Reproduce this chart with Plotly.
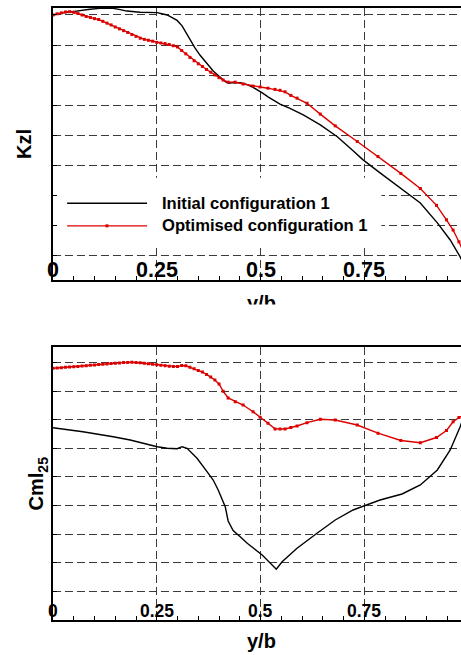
import plotly.graph_objects as go

# ---------------- data ----------------
tick_vals = [0, 0.25, 0.5, 0.75]
tick_text = ["0", "0.25", "0.5", "0.75"]

# Optimised configuration 1 (red, with markers) – spanwise stations
x_opt = [0.00, 0.01, 0.02, 0.03, 0.04, 0.05, 0.06, 0.07, 0.08, 0.09,
         0.10, 0.11, 0.12, 0.13, 0.14, 0.15, 0.16, 0.17, 0.18, 0.19,
         0.20, 0.21, 0.22, 0.23, 0.24, 0.25, 0.26, 0.27, 0.28, 0.29,
         0.30, 0.31, 0.32, 0.33, 0.34, 0.35, 0.36, 0.37, 0.38, 0.39,
         0.40, 0.41, 0.422, 0.439, 0.458, 0.482, 0.499, 0.518, 0.535, 0.547,
         0.559, 0.573, 0.588, 0.612, 0.644, 0.680, 0.733, 0.783, 0.838, 0.885,
         0.924, 0.948, 0.964, 0.978, 0.99, 1.0]
kzl_opt = [1.000, 1.004, 1.007, 1.010, 1.011, 1.009, 1.005, 1.000, 0.995, 0.992,
           0.988, 0.985, 0.979, 0.973, 0.967, 0.960, 0.954, 0.948, 0.942, 0.935,
           0.929, 0.923, 0.919, 0.916, 0.913, 0.909, 0.907, 0.905, 0.902, 0.898,
           0.894, 0.882, 0.871, 0.859, 0.848, 0.838, 0.829, 0.819, 0.810, 0.801,
           0.792, 0.784, 0.777, 0.777, 0.771, 0.764, 0.761, 0.757, 0.753, 0.750,
           0.745, 0.733, 0.724, 0.707, 0.671, 0.632, 0.580, 0.530, 0.474, 0.424,
           0.368, 0.320, 0.286, 0.247, 0.213, 0.180]
cml_opt = [8.801, 8.811, 8.822, 8.836, 8.846, 8.857, 8.867, 8.878, 8.892, 8.906,
           8.920, 8.930, 8.944, 8.955, 8.969, 8.979, 8.990, 9.000, 9.007, 9.010,
           9.003, 8.997, 8.979, 8.962, 8.944, 8.927, 8.909, 8.892, 8.874, 8.864,
           8.860, 8.895, 8.888, 8.836, 8.787, 8.727, 8.668, 8.587, 8.500, 8.392,
           8.252, 7.997, 7.762, 7.633, 7.517, 7.283, 7.087, 6.881, 6.682, 6.678,
           6.678, 6.731, 6.783, 6.899, 7.017, 6.993, 6.818, 6.531, 6.276, 6.199,
           6.381, 6.626, 6.930, 7.080, 7.168, 7.238]

# Initial configuration 1 (black) – Kzl
x_ini_kzl = [0.0, 0.024, 0.048, 0.072, 0.089, 0.113, 0.145, 0.162, 0.178, 0.210,
             0.251, 0.275, 0.289, 0.299, 0.311, 0.321, 0.330, 0.342, 0.354, 0.371,
             0.386, 0.403, 0.415, 0.424, 0.434, 0.451, 0.468, 0.482, 0.494, 0.506,
             0.518, 0.530, 0.547, 0.571, 0.603, 0.644, 0.685, 0.721, 0.747, 0.788,
             0.844, 0.885, 0.926, 0.957, 0.981, 1.0]
kzl_ini = [1.000, 1.007, 1.011, 1.017, 1.019, 1.022, 1.022, 1.018, 1.013, 1.009,
           1.008, 1.000, 0.990, 0.982, 0.964, 0.940, 0.917, 0.891, 0.867, 0.837,
           0.814, 0.793, 0.779, 0.773, 0.776, 0.775, 0.769, 0.760, 0.751, 0.740,
           0.728, 0.718, 0.704, 0.690, 0.668, 0.635, 0.596, 0.552, 0.519, 0.476,
           0.419, 0.376, 0.310, 0.253, 0.197, 0.140]

# Initial configuration 1 (black) – Cml25
x_ini_cml = [0.0, 0.072, 0.145, 0.186, 0.251, 0.275, 0.299, 0.311, 0.323, 0.347,
             0.371, 0.386, 0.398, 0.407, 0.415, 0.422, 0.434, 0.451, 0.468, 0.504,
             0.538, 0.552, 0.588, 0.636, 0.680, 0.723, 0.750, 0.788, 0.841, 0.861,
             0.885, 0.926, 0.957, 0.981, 1.0]
cml_ini = [6.724, 6.584, 6.409, 6.294, 6.059, 6.003, 5.990, 6.059, 6.003, 5.654,
           5.185, 4.895, 4.545, 4.266, 3.962, 3.462, 3.129, 2.913, 2.682, 2.273,
           1.773, 2.038, 2.507, 3.031, 3.497, 3.846, 3.997, 4.196, 4.406, 4.545,
           4.720, 5.245, 5.944, 6.759, 7.55]

series_names = ["Initial configuration 1", "Optimised configuration 1"]

# ---------------- styling ----------------
FONT = "Liberation Sans, Arial, Helvetica, sans-serif"
RED = "rgb(220,0,0)"
GRID = "#3a3a3a"

fig = go.Figure()

fig.add_trace(go.Scatter(x=x_ini_kzl, y=kzl_ini, mode="lines", name=series_names[0],
                         line=dict(color="black", width=1.4), xaxis="x", yaxis="y"))
fig.add_trace(go.Scatter(x=x_opt, y=kzl_opt, mode="lines+markers", name=series_names[1],
                         line=dict(color=RED, width=1.4),
                         marker=dict(symbol="square", size=3, color=RED),
                         xaxis="x", yaxis="y"))
fig.add_trace(go.Scatter(x=x_ini_cml, y=cml_ini, mode="lines", name=series_names[0],
                         line=dict(color="black", width=1.4), xaxis="x2", yaxis="y2"))
fig.add_trace(go.Scatter(x=x_opt, y=cml_opt, mode="lines+markers", name=series_names[1],
                         line=dict(color=RED, width=1.4),
                         marker=dict(symbol="square", size=3, color=RED),
                         xaxis="x2", yaxis="y2"))

xcommon = dict(range=[0, 0.983], showline=True, linecolor="black", linewidth=2,
               mirror=True, ticks="inside", ticklen=4, tickcolor="black",
               dtick=0.25, tick0=0, showticklabels=False, zeroline=False,
               showgrid=True, gridcolor=GRID, gridwidth=1, griddash="8px,4px",
               minor=dict(dtick=0.05, ticks="inside", ticklen=4, tickcolor="black",
                          showgrid=False),
               automargin=False)
ycommon = dict(showline=True, linecolor="black", linewidth=2, ticks="inside",
               ticklen=4, tickcolor="black", showticklabels=False, zeroline=False,
               showgrid=True, gridcolor=GRID, gridwidth=1, griddash="8px,4px",
               automargin=False)

fig.update_layout(
    width=461, height=655,
    margin=dict(l=53, r=0, t=8, b=35),
    paper_bgcolor="white", plot_bgcolor="white",
    showlegend=False,
    font=dict(family=FONT, color="black"),
    xaxis=dict(domain=[0, 1], anchor="y", **xcommon),
    yaxis=dict(domain=[0.5556, 1], anchor="x", range=[0.1203, 1.0232],
               dtick=0.1, tick0=0, **ycommon),
    xaxis2=dict(domain=[0, 1], anchor="y2", **xcommon),
    yaxis2=dict(domain=[0, 0.4456], anchor="x2", range=[0, 9.535],
                dtick=1, tick0=0, **ycommon),
)

ann = []
for v, t in zip(tick_vals, tick_text):
    ann.append(dict(x=v, xref="x", y=0.5719, yref="paper", text="<b>%s</b>" % t,
                    showarrow=False, xanchor="center", yanchor="middle",
                    font=dict(size=21.5, family=FONT, color="black")))
    ann.append(dict(x=v, xref="x2", y=0.0147, yref="paper", text="<b>%s</b>" % t,
                    showarrow=False, xanchor="center", yanchor="middle",
                    font=dict(size=17.5, family=FONT, color="black")))

# axis titles
ann.append(dict(x=-0.0699, xref="paper", y=0.7786, yref="paper", text="<b>Kzl</b>",
                textangle=-90, showarrow=False, xanchor="center", yanchor="middle",
                font=dict(size=20, family=FONT, color="black")))
ann.append(dict(x=-0.037, xref="paper", y=0.223, yref="paper",
                text="<b>Cml<sub>25</sub></b>",
                textangle=-90, showarrow=False, xanchor="center", yanchor="middle",
                font=dict(size=20, family=FONT, color="black")))
ann.append(dict(x=0.51, xref="paper", y=-0.0343, yref="paper", text="<b>y/b</b>",
                showarrow=False, xanchor="center", yanchor="middle",
                font=dict(size=20, family=FONT, color="black")))
ann.append(dict(x=0.51, xref="paper", y=(620 - 303) / 612, yref="paper", text="<b>y/b</b>",
                showarrow=False, xanchor="center", yanchor="middle",
                font=dict(size=20, family=FONT, color="black")))
# white band hiding the lower part of the clipped upper title
ann.append(dict(x=0.51, xref="paper", y=(620 - 304) / 612, yref="paper", text=".",
                showarrow=False, xanchor="center", yanchor="top",
                width=110, height=30, bgcolor="white", borderpad=0,
                font=dict(size=10, family=FONT, color="white")))

# legend (drawn inside upper panel)
leg_y = [0.375, 0.30]
leg_col = ["black", RED]
ann.append(dict(x=0.258, xref="x", y=leg_y[0], yref="y", text="<b>%s</b>" % series_names[0],
                showarrow=False, xanchor="left", yanchor="middle",
                font=dict(size=16.6, family=FONT, color="black")))
ann.append(dict(x=0.258, xref="x", y=leg_y[1], yref="y", text="<b>%s</b>" % series_names[1],
                showarrow=False, xanchor="left", yanchor="middle",
                font=dict(size=16.6, family=FONT, color="black")))

shapes = [
    dict(type="rect", xref="x", yref="y", x0=0.0096, x1=0.791, y0=0.24, y1=0.46,
         fillcolor="white", line=dict(width=0), layer="between"),
]
for yy, cc in zip(leg_y, leg_col):
    shapes.append(dict(type="line", xref="x", yref="y", x0=0.034, x1=0.2266, y0=yy, y1=yy,
                       line=dict(color=cc, width=1.4), layer="above"))
shapes.append(dict(type="rect", xref="x", yref="y", xsizemode="pixel", ysizemode="pixel",
                   xanchor=0.130, yanchor=leg_y[1], x0=-1.5, x1=1.5, y0=-1.5, y1=1.5,
                   fillcolor=RED, line=dict(width=0), layer="above"))

fig.update_layout(annotations=ann, shapes=shapes)
fig.write_html("out.html", config={"displayModeBar": False},
               post_script="document.body.style.margin='0px';document.body.style.padding='0px';")
